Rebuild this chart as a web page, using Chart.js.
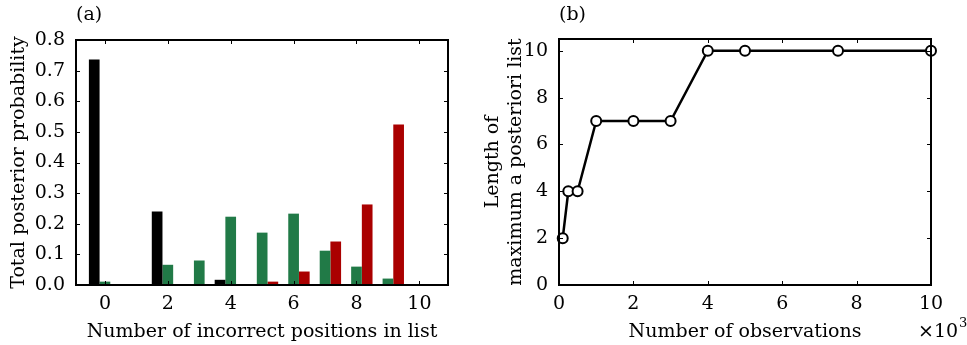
<!DOCTYPE html>
<html>
<head>
<meta charset="utf-8">
<script src="https://cdn.jsdelivr.net/npm/chart.js@4.4.0/dist/chart.umd.min.js"></script>
<style>
html,body{margin:0;padding:0;background:#fff;}
#wrap{position:relative;width:967px;height:345px;overflow:hidden;}
#ca{position:absolute;left:0;top:0;}
#cb{position:absolute;left:480px;top:0;}
</style>
</head>
<body>
<div id="wrap">
<canvas id="ca" width="480" height="345"></canvas>
<canvas id="cb" width="487" height="345"></canvas>
</div>
<script>
// ---- Panel (a) data ----
const positions = [0,1,2,3,4,5,6,7,8,9,10];
const blackValues = [0.736,0,0.240,0,0.017,0,0,0,0,0,0];
const greenValues = [0.011,0,0.066,0.080,0.223,0.171,0.233,0.112,0.060,0.021,0];
const redValues   = [0,0,0,0,0.002,0.011,0.044,0.142,0.263,0.524,0];
const yTicksA = [0,0.1,0.2,0.3,0.4,0.5,0.6,0.7,0.8];
const xTicksA = [0,2,4,6,8,10];

// ---- Panel (b) data ----
const observations = [100,250,500,1000,2000,3000,4000,5000,7500,10000];
const mapLength    = [2,4,4,7,7,7,10,10,10,10];
const xTicksB = [0,2000,4000,6000,8000,10000];
const yTicksB = [0,2,4,6,8,10];

const FONT = "'DejaVu Serif', serif";
const FS = 19;
Chart.defaults.font.family = FONT;
Chart.defaults.color = '#000';
Chart.defaults.animation = false;

function pts(xs, ys){ return xs.map((x,i)=>({x:x, y:ys[i]})); }

const frame = {
  id: 'frame',
  afterDraw(chart, args, opts){
    const {ctx, chartArea:a, scales} = chart;
    ctx.save();
    ctx.strokeStyle = '#000';
    ctx.lineWidth = 1;
    const L = 4;
    ctx.beginPath();
    opts.xticks.forEach(v=>{
      const px = Math.round(scales.x.getPixelForValue(v))+0.5;
      ctx.moveTo(px, a.bottom); ctx.lineTo(px, a.bottom-L);
      ctx.moveTo(px, a.top); ctx.lineTo(px, a.top+L);
    });
    opts.yticks.forEach(v=>{
      const py = Math.round(scales.y.getPixelForValue(v))+0.5;
      ctx.moveTo(a.left, py); ctx.lineTo(a.left+L, py);
      ctx.moveTo(a.right, py); ctx.lineTo(a.right-L, py);
    });
    ctx.stroke();
    ctx.lineWidth = 2;
    ctx.strokeRect(a.left, a.top, a.right-a.left, a.bottom-a.top);
    // panel label
    ctx.fillStyle = '#000';
    ctx.font = FS + "px " + FONT;
    ctx.textBaseline = 'middle';
    ctx.textAlign = 'left';
    ctx.fillText(opts.label, a.left, 15);
    if (opts.exponent) {
      ctx.font = FS + "px " + FONT;
      ctx.textAlign = 'left';
      const x0 = a.right - 13;
      ctx.fillText('×10', x0, 332);
      const w = ctx.measureText('×10').width;
      ctx.font = "13px " + FONT;
      ctx.fillText('3', x0 + w + 1, 324);
    }
    ctx.restore();
  }
};

const tickFont = {size: FS, family: FONT};
const titleFont = {size: FS, family: FONT};

new Chart(document.getElementById('ca'), {
  type: 'bar',
  data: {
    datasets: [
      {data: pts(positions, blackValues), backgroundColor: '#000000'},
      {data: pts(positions, greenValues), backgroundColor: '#217a47'},
      {data: pts(positions, redValues), backgroundColor: '#aa0000'}
    ]
  },
  options: {
    responsive: false,
    layout: {padding: {left: 0, right: 32, top: 40, bottom: 0}},
    datasets: {bar: {barPercentage: 1.0, categoryPercentage: 1.02, borderWidth: 0}},
    plugins: {legend: {display: false}, tooltip: {enabled: false},
      frame: {xticks: xTicksA, yticks: yTicksA, label: '(a)'}},
    scales: {
      x: {type: 'linear', min: -0.92, max: 10.91, offset: false,
          grid: {display: false, drawTicks: false}, border: {display: false},
          afterBuildTicks: s => { s.ticks = xTicksA.map(v=>({value:v})); },
          afterFit: s => { s.height = 60; },
          ticks: {font: tickFont, padding: 8, maxRotation: 0, autoSkip: false, callback: v => String(v)},
          title: {display: true, text: 'Number of incorrect positions in list', font: titleFont, padding: {top: 4, bottom: 2}}},
      y: {min: 0, max: 0.8,
          grid: {display: false, drawTicks: false}, border: {display: false},
          afterBuildTicks: s => { s.ticks = yTicksA.map(v=>({value:v})); },
          afterFit: s => { s.width = 76; },
          ticks: {font: tickFont, padding: 11, callback: v => Number(v).toFixed(1)},
          title: {display: true, text: 'Total posterior probability', font: titleFont, padding: {top: 8, bottom: 0}}}
    }
  },
  plugins: [frame]
});

new Chart(document.getElementById('cb'), {
  type: 'line',
  data: {
    datasets: [{
      data: pts(observations, mapLength),
      borderColor: '#000', borderWidth: 2.5,
      pointRadius: 5, pointBorderWidth: 2,
      pointBackgroundColor: '#fff', pointBorderColor: '#000',
      clip: false, tension: 0
    }]
  },
  options: {
    responsive: false,
    layout: {padding: {left: 0, right: 36, top: 39, bottom: 0}},
    plugins: {legend: {display: false}, tooltip: {enabled: false},
      frame: {xticks: xTicksB, yticks: yTicksB, label: '(b)', exponent: true}},
    scales: {
      x: {type: 'linear', min: 0, max: 10000,
          grid: {display: false, drawTicks: false}, border: {display: false},
          afterBuildTicks: s => { s.ticks = xTicksB.map(v=>({value:v})); },
          afterFit: s => { s.height = 60; },
          ticks: {font: tickFont, padding: 8, maxRotation: 0, autoSkip: false, callback: v => String(v/1000)},
          title: {display: true, text: 'Number of observations', font: titleFont, padding: {top: 4, bottom: 2}}},
      y: {min: 0, max: 10.5,
          grid: {display: false, drawTicks: false}, border: {display: false},
          afterBuildTicks: s => { s.ticks = yTicksB.map(v=>({value:v})); },
          afterFit: s => { s.width = 79; },
          ticks: {font: tickFont, padding: 11, callback: v => String(v)},
          title: {display: true, text: ['Length of', 'maximum a posteriori list'], font: titleFont, padding: {top: 2, bottom: 0}}}
    }
  },
  plugins: [frame]
});
</script>
</body>
</html>
